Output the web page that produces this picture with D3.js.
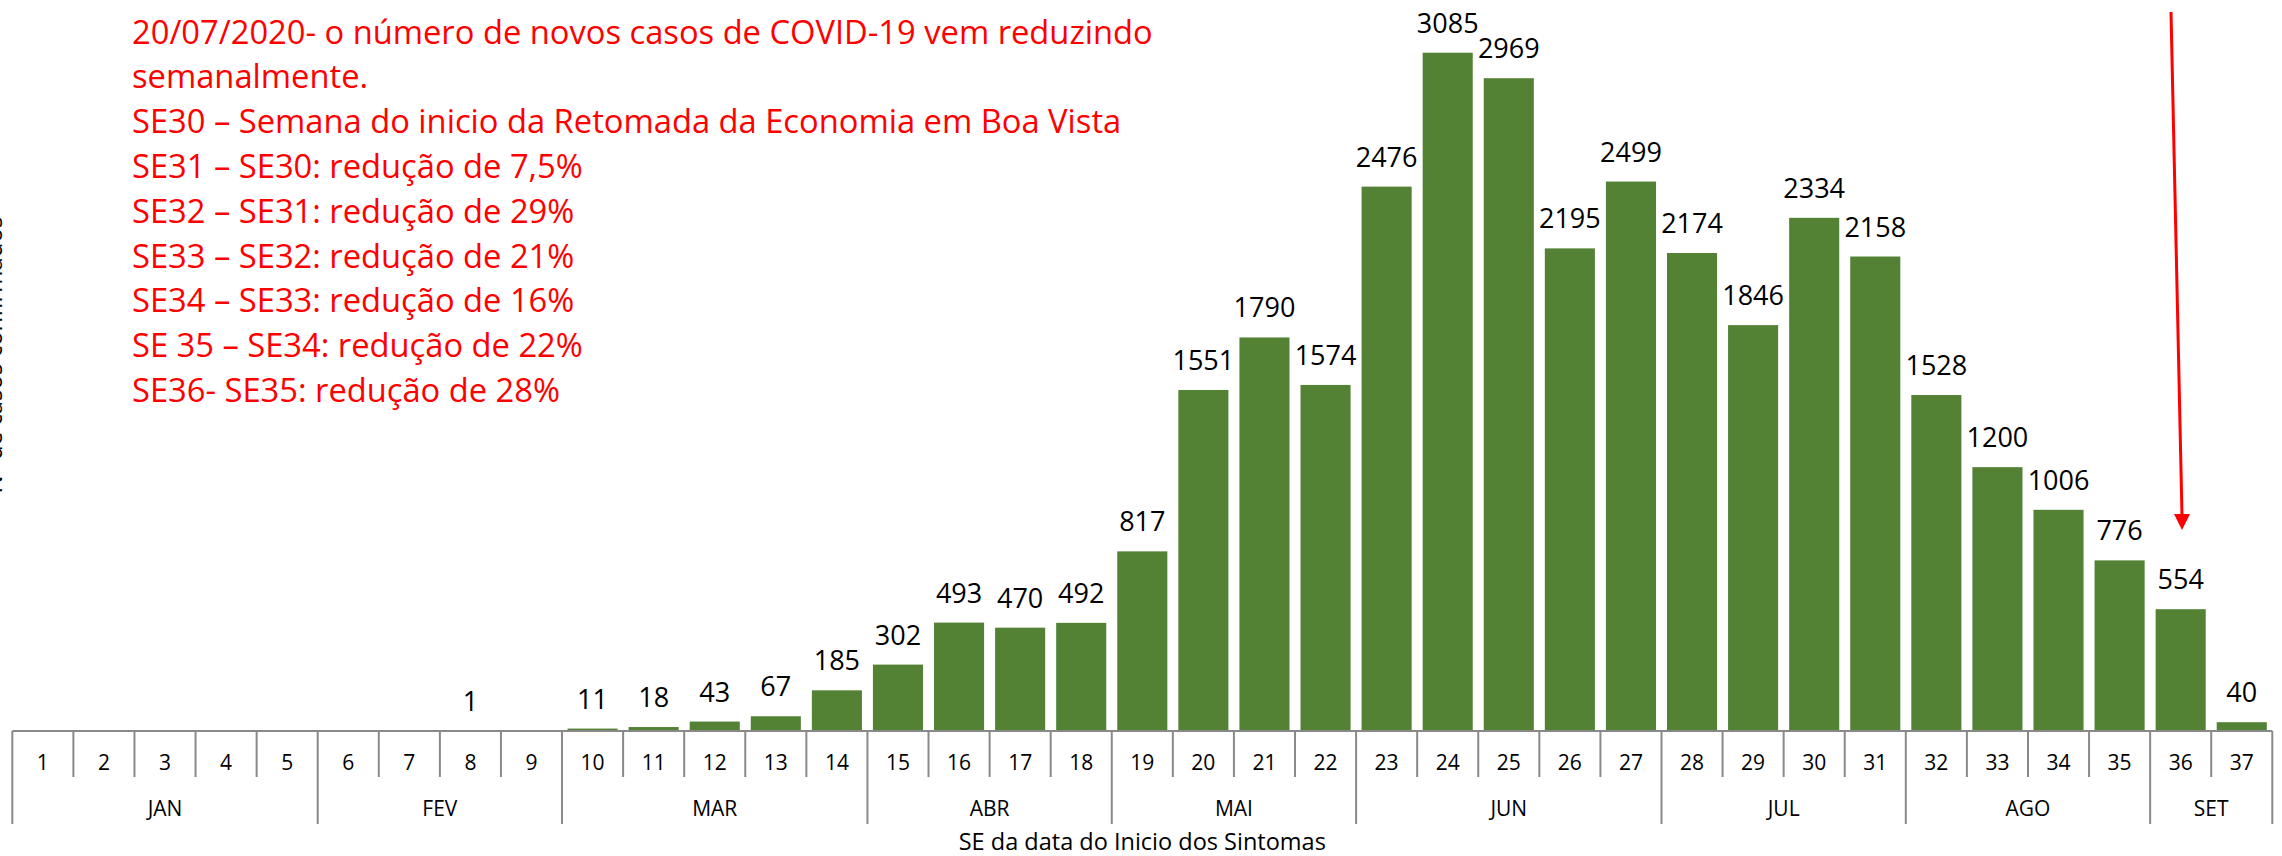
<!DOCTYPE html>
<html>
<head>
<meta charset="utf-8">
<script src="https://cdn.jsdelivr.net/npm/d3@7"></script>
<style>
  html, body { margin: 0; padding: 0; background: #fff; }
  svg { display: block; }
</style>
</head>
<body>
<div id="chart"></div>
<script>
const weeks = d3.range(1, 38).map(String);
const cases = [null, null, null, null, null, null, null, 1, null, 11, 18, 43, 67, 185, 302, 493, 470, 492, 817, 1551, 1790, 1574, 2476, 3085, 2969, 2195, 2499, 2174, 1846, 2334, 2158, 1528, 1200, 1006, 776, 554, 40];
const months = ["JAN", "FEV", "MAR", "ABR", "MAI", "JUN", "JUL", "AGO", "SET"];
const weeksPerMonth = [5, 4, 5, 4, 4, 5, 4, 4, 2];
const notes = [
  "20/07/2020- o número de novos casos de COVID-19 vem reduzindo",
  "semanalmente.",
  "SE30 – Semana do inicio da Retomada da Economia em Boa Vista",
  "SE31 – SE30: redução de 7,5%",
  "SE32 – SE31: redução de 29%",
  "SE33 – SE32: redução de 21%",
  "SE34 – SE33: redução de 16%",
  "SE 35 – SE34: redução de 22%",
  "SE36- SE35: redução de 28%"
];

(() => {
  const width = 2282;
  const height = 856;
  const font = "'Open Sans', 'DejaVu Sans', sans-serif";
  const baseY = 731;
  const axisColor = "#898989";

  const svg = d3.select("#chart")
    .append("svg")
    .attr("width", width)
    .attr("height", height)
    .style("font-family", font);

  const x = d3.scaleBand()
    .domain(weeks)
    .range([12.3, 2272.3])
    .paddingInner(0.18)
    .paddingOuter(0.09);

  const y = d3.scaleLinear()
    .domain([0, d3.max(cases)])
    .range([baseY, 52.7]);

  const step = x.step();
  const x0 = x.range()[0];

  const data = weeks.map((w, i) => ({ week: w, value: cases[i] }))
    .filter(d => d.value !== null);

  // bars
  svg.append("g")
    .selectAll("rect")
    .data(data)
    .join("rect")
    .attr("x", d => x(d.week))
    .attr("width", x.bandwidth())
    .attr("y", d => y(d.value))
    .attr("height", d => baseY - y(d.value))
    .attr("fill", "#548235");

  // value labels
  svg.append("g")
    .selectAll("text")
    .data(data)
    .join("text")
    .attr("x", d => x(d.week) + x.bandwidth() / 2)
    .attr("y", d => y(d.value) - 20)
    .attr("text-anchor", "middle")
    .style("font-size", "27px")
    .attr("fill", "#000")
    .text(d => d.value);

  // category axis (weeks + months)
  const axis = svg.append("g");
  axis.append("line")
    .attr("x1", x0).attr("x2", x0 + step * weeks.length)
    .attr("y1", baseY).attr("y2", baseY)
    .attr("stroke", axisColor).attr("stroke-width", 2);

  const bounds = [0];
  weeksPerMonth.forEach(n => bounds.push(bounds[bounds.length - 1] + n));

  axis.selectAll(".wtick")
    .data(d3.range(0, weeks.length + 1))
    .join("line")
    .attr("x1", i => x0 + i * step).attr("x2", i => x0 + i * step)
    .attr("y1", baseY)
    .attr("y2", i => bounds.includes(i) ? 824 : 777)
    .attr("stroke", axisColor).attr("stroke-width", 2);

  axis.selectAll(".wlabel")
    .data(weeks)
    .join("text")
    .attr("x", w => x(w) + x.bandwidth() / 2)
    .attr("y", 770)
    .attr("text-anchor", "middle")
    .style("font-size", "21px")
    .text(w => w);

  axis.selectAll(".mlabel")
    .data(months)
    .join("text")
    .attr("x", (m, i) => x0 + (bounds[i] + bounds[i + 1]) / 2 * step)
    .attr("y", 816)
    .attr("text-anchor", "middle")
    .style("font-size", "21px")
    .text(m => m);

  svg.append("text")
    .attr("x", (x.range()[0] + x.range()[1]) / 2)
    .attr("y", 850)
    .attr("text-anchor", "middle")
    .style("font-size", "23.5px")
    .text("SE da data do Inicio dos Sintomas");

  // y title, mostly cut off at the left edge like the original
  svg.append("text")
    .attr("transform", "translate(1.5,355) rotate(-90)")
    .attr("text-anchor", "middle")
    .style("font-size", "24px")
    .text("Nº de casos confirmados");

  // red notes
  svg.append("g")
    .selectAll("text")
    .data(notes)
    .join("text")
    .attr("x", 132)
    .attr("y", (d, i) => 43.5 + i * 44.8)
    .attr("fill", "#ff0000")
    .style("font-size", "32.7px")
    .text(d => d);

  // red arrow
  svg.append("line")
    .attr("x1", 2171).attr("y1", 12)
    .attr("x2", 2182).attr("y2", 516)
    .attr("stroke", "#ff0000").attr("stroke-width", 3);
  svg.append("path")
    .attr("d", "M2174,514 L2190,514 L2182,530 Z")
    .attr("fill", "#ff0000");
})();
</script>
</body>
</html>
